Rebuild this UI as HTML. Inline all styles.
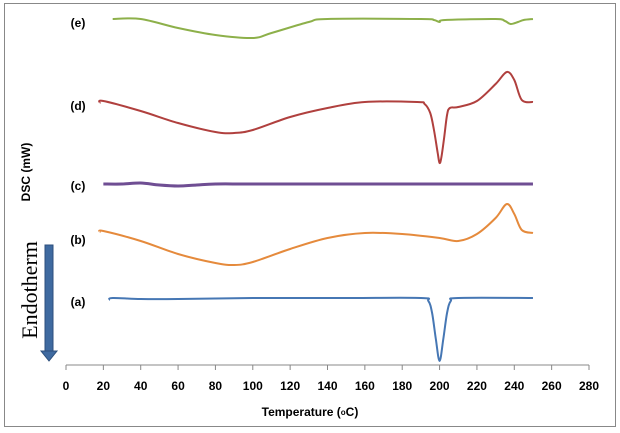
<!DOCTYPE html>
<html><head><meta charset="utf-8"><style>
html,body{margin:0;padding:0;background:#fff;}
svg{display:block;font-family:"Liberation Sans",Arial,sans-serif;}
</style></head><body>
<svg id="chart" width="620" height="433" viewBox="0 0 620 433">
<rect x="4.5" y="3.5" width="611" height="423" fill="#fff" stroke="#888" stroke-width="1"/>
<g id="axis"></g>
<g id="series"></g>
<g id="labels"></g>
<text x="30" y="172" transform="rotate(-90 30 172)" text-anchor="middle" font-size="12" font-weight="bold">DSC (mW)</text>
<text x="37" y="290" transform="rotate(-90 37 290)" text-anchor="middle" font-size="22" font-family="Liberation Serif,serif">Endotherm</text>
<g>
<rect x="45" y="245" width="8" height="106" fill="#3f6aa0" stroke="#2c4f7c" stroke-width="1"/>
<polygon points="41,351 57,351 49,361" fill="#3f6aa0" stroke="#2c4f7c" stroke-width="1"/>
</g>
<text x="310" y="416" text-anchor="middle" font-size="12" font-weight="bold">Temperature (<tspan font-size="8" dy="-1">o</tspan><tspan dy="1">C)</tspan></text>
</svg>
<script>
const xTicks = [0,20,40,60,80,100,120,140,160,180,200,220,240,260,280];
const seriesNames = ["(e)","(d)","(c)","(b)","(a)"];
const seriesColors = ["#8db04a","#b0403e","#6f4e93","#e58a3c","#4677b4"];
const tempE = [25,40,60,80,100,110,130,140,190,197,200,203,230,235,238,242,245,250];
const dscE  = [346,346,337,330,327,332,343,346,346,345,343,345,346,344,341,343,345,346];
const tempD = [18,20,40,60,80,90,100,120,140,160,188,192,195,197,199,200,201,202.5,204,205.5,210,220,230,236,240,244,250];
const dscD  = [262,264,254,242,233,232,235,248,257,263,263,261,252,235,212,202,208,228,250,257,258,264,281,293,285,265,263];
const tempC = [20,30,40,50,60,70,80,100,150,200,250];
const dscC  = [181,181,182,180,179,180,181,181,181,181,181];
const tempB = [18,20,40,60,80,90,100,120,140,160,180,200,210,220,230,236,240,244,250];
const dscB  = [133,134,124,111,102,100,103,116,127,132,131,127,124,131,147,161,151,135,132];
const tempA = [23,25,40,60,100,150,190,194,196,198,200,202,204,206,210,250];
const dscA  = [65,67,66,66,67,67,67,64,52,26,4,26,52,64,67,67];
const tempsAll = [tempE,tempD,tempC,tempB,tempA];
const dscAll = [dscE,dscD,dscC,dscB,dscA];
const labelY = [23,106,186,240,302];

const NS="http://www.w3.org/2000/svg";
const X0=66,X1=589,YB=365;
function xs(t){return X0+(t-0)*(X1-X0)/280;}
function ys(v){return YB-v;}
const axis=document.getElementById('axis');
const line=document.createElementNS(NS,'line');
line.setAttribute('x1',X0);line.setAttribute('x2',X1);line.setAttribute('y1',YB);line.setAttribute('y2',YB);
line.setAttribute('stroke','#888');


axis.appendChild(line);
xTicks.forEach(t=>{
  const tk=document.createElementNS(NS,'line');
  tk.setAttribute('x1',xs(t));tk.setAttribute('x2',xs(t));tk.setAttribute('y1',YB);tk.setAttribute('y2',YB+5);
  tk.setAttribute('stroke','#888');
  
  
  axis.appendChild(tk);
  const lb=document.createElementNS(NS,'text');
  lb.setAttribute('x',xs(t));lb.setAttribute('y',390);lb.setAttribute('text-anchor','middle');
  lb.setAttribute('font-size','12');lb.setAttribute('font-weight','bold');
  lb.textContent=t;
  
  
  axis.appendChild(lb);
});
function smooth(pts){
  let d='M'+pts[0][0]+','+pts[0][1];
  for(let i=0;i<pts.length-1;i++){
    const p0=pts[i-1]||pts[i],p1=pts[i],p2=pts[i+1],p3=pts[i+2]||p2;
    const c1=[p1[0]+(p2[0]-p0[0])/6,p1[1]+(p2[1]-p0[1])/6];
    const c2=[p2[0]-(p3[0]-p1[0])/6,p2[1]-(p3[1]-p1[1])/6];
    d+=' C'+c1[0]+','+c1[1]+' '+c2[0]+','+c2[1]+' '+p2[0]+','+p2[1];
  }
  return d;
}
const sg=document.getElementById('series'), lg=document.getElementById('labels');
tempsAll.forEach((ts,i)=>{
  const pts=ts.map((t,j)=>[xs(t),ys(dscAll[i][j])]);
  const p=document.createElementNS(NS,'path');
  p.setAttribute('d',smooth(pts));p.setAttribute('fill','none');
  p.setAttribute('stroke',seriesColors[i]);p.setAttribute('stroke-width',i===2?3:2);
  
  
  sg.appendChild(p);
  const l=document.createElementNS(NS,'text');
  l.setAttribute('x',78);l.setAttribute('y',labelY[i]+4);l.setAttribute('text-anchor','middle');
  l.setAttribute('font-size','12');l.setAttribute('font-weight','bold');
  l.textContent=seriesNames[i];
  
  
  lg.appendChild(l);
});
</script>
</body></html>
